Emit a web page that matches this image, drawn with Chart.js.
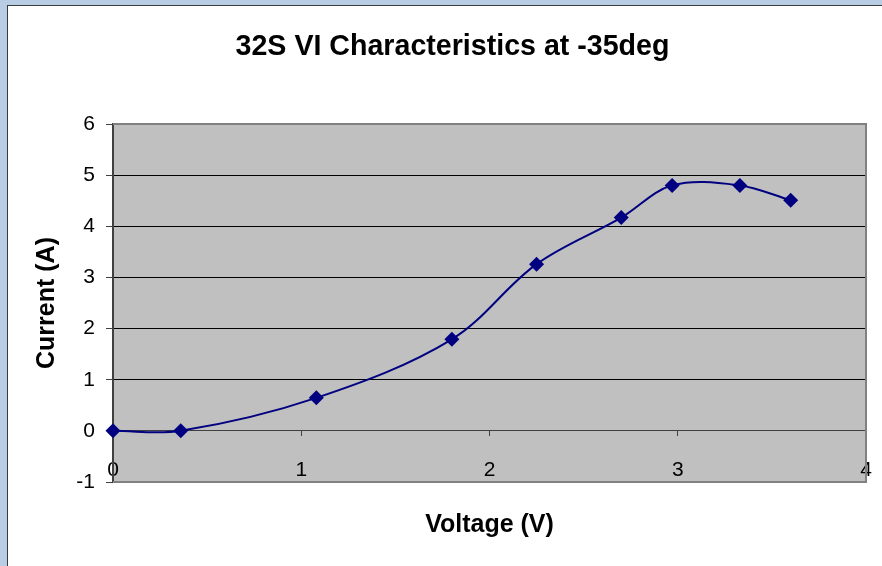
<!DOCTYPE html>
<html>
<head>
<meta charset="utf-8">
<title>32S VI Characteristics</title>
<script src="https://cdn.jsdelivr.net/npm/chart.js@4/dist/chart.umd.min.js"></script>
<style>
  html, body { margin: 0; padding: 0; }
  body { width: 882px; height: 566px; background: #B8CCE4; position: relative; overflow: hidden; }
  #frame {
    position: absolute; left: 7px; top: 5px; width: 874px; height: 560px;
    background: #fff; border-left: 1px solid #3a3a3a; border-top: 1px solid #3a3a3a;
  }
  #frame canvas { display: block; }
</style>
</head>
<body>
<div id="frame"><canvas id="viChart" width="874" height="560"></canvas></div>
<script>
// Measured VI points at -35deg
const voltage = [0, 0.36, 1.08, 1.80, 2.25, 2.70, 2.97, 3.33, 3.60];
const current = [0, 0, 0.645, 1.79, 3.26, 4.17, 4.80, 4.80, 4.51];

const xTicks = [0, 1, 2, 3, 4];
const yTicks = [-1, 0, 1, 2, 3, 4, 5, 6];

const points = voltage.map((v, i) => ({ x: v, y: current[i] }));

const FONT = 'Arial, "Liberation Sans", sans-serif';

// grey plot background + border around the plot
const plotArea = {
  id: 'plotArea',
  beforeDraw(chart) {
    const { ctx, chartArea: a } = chart;
    ctx.save();
    ctx.fillStyle = '#C0C0C0';
    ctx.fillRect(a.left, a.top, a.right - a.left, a.bottom - a.top);
    ctx.restore();
  },
  beforeDatasetsDraw(chart) {
    const { ctx, chartArea: a } = chart;
    ctx.save();
    ctx.strokeStyle = '#808080';
    ctx.lineWidth = 2;
    ctx.beginPath();
    ctx.moveTo(a.left, a.top);
    ctx.lineTo(a.right, a.top);
    ctx.lineTo(a.right, a.bottom);
    ctx.lineTo(a.left, a.bottom);
    ctx.stroke();
    ctx.restore();
  }
};

new Chart(document.getElementById('viChart'), {
  type: 'scatter',
  data: {
    datasets: [{
      label: 'Current',
      data: points,
      showLine: true,
      tension: 0.35,
      borderColor: '#000080',
      borderWidth: 2,
      backgroundColor: '#000080',
      pointStyle: 'rectRot',
      pointRadius: 7.5,
      pointHoverRadius: 7.5,
      pointBorderWidth: 0,
      clip: false
    }]
  },
  options: {
    responsive: false,
    animation: false,
    events: [],
    layout: { autoPadding: false, padding: { left: 15, right: 0, top: 0, bottom: 0 } },
    plugins: {
      legend: { display: false },
      tooltip: { enabled: false },
      title: {
        display: true,
        text: '32S VI Characteristics at -35deg',
        color: '#000',
        font: { family: FONT, size: 28.6, weight: 'bold' },
        padding: { top: 23.5, bottom: 60.2 }
      }
    },
    scales: {
      // bottom axis: only carries the axis title
      x: {
        type: 'linear',
        position: 'bottom',
        min: 0,
        max: 4,
        ticks: { display: false },
        grid: { display: false, drawTicks: false },
        border: { display: false },
        title: {
          display: true,
          text: 'Voltage (V)',
          color: '#000',
          font: { family: FONT, size: 25, weight: 'bold' },
          padding: { top: 0, bottom: 26 }
        },
        afterFit(scale) { scale.height = 84; }
      },
      // axis line crossing at y = 0 with its ticks and labels
      x0: {
        type: 'linear',
        position: { y: 0 },
        min: 0,
        max: 4,
        afterBuildTicks(scale) { scale.ticks = xTicks.map(v => ({ value: v })); },
        // labels sit inside the plot, so they shouldn't reserve side space
        afterFit(scale) { scale.paddingLeft = 0; scale.paddingRight = 0; },
        ticks: {
          color: '#000',
          font: { family: FONT, size: 21 },
          padding: 22,
          maxRotation: 0
        },
        grid: { drawOnChartArea: false, drawTicks: true, tickLength: 5, tickColor: '#404040', tickWidth: 1 },
        border: { display: true, color: '#404040', width: 1 }
      },
      y: {
        type: 'linear',
        position: 'left',
        min: -1,
        max: 6,
        afterBuildTicks(scale) { scale.ticks = yTicks.map(v => ({ value: v })); },
        ticks: {
          color: '#000',
          font: { family: FONT, size: 21 },
          padding: 11
        },
        grid: {
          color: ctx => (ctx.tick && ctx.tick.value >= 1 && ctx.tick.value <= 5) ? '#000' : 'rgba(0,0,0,0)',
          tickColor: '#404040',
          tickLength: 7,
          lineWidth: 1
        },
        border: { display: true, color: '#404040', width: 2 },
        title: {
          display: true,
          text: 'Current (A)',
          color: '#000',
          font: { family: FONT, size: 25, weight: 'bold' },
          padding: { top: 9, bottom: 0 }
        },
        afterFit(scale) { scale.width = 90; }
      },
      // spacer on the right so the plot stops short of the edge
      yR: {
        type: 'linear',
        position: 'right',
        ticks: { display: false },
        grid: { display: false, drawTicks: false },
        border: { display: false },
        afterFit(scale) { scale.width = 16; }
      }
    }
  },
  plugins: [plotArea]
});
</script>
</body>
</html>
